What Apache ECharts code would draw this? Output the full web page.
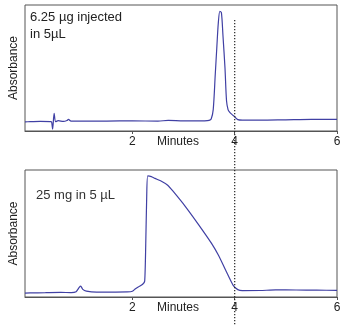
<!DOCTYPE html>
<html><head><meta charset="utf-8">
<script src="https://cdn.jsdelivr.net/npm/echarts@6/dist/echarts.min.js"></script>
<style>html,body{margin:0;padding:0;background:#fff}#c{width:347px;height:330px}</style>
</head><body><div id="c"></div>
<script>
const xTicks = [2, 4, 6];
const markerMinute = 4;
const topTime = [-0.1,0,0.2,0.4,0.42,0.44,0.47,0.50,0.55,0.65,0.72,0.75,0.8,1.0,1.5,2.0,2.5,2.7,3.0,3.4,3.5,3.54,3.58,3.62,3.65,3.68,3.71,3.74,3.77,3.81,3.84,3.87,3.90,3.95,4.0,4.06,4.15,4.5,5.0,5.5,6.0];
const topAbs  = [7.3,7.4,7.6,7.5,7.3,1.5,14,7.4,8.2,7.6,8.3,9.2,7.8,7.8,7.9,8.0,7.9,8.4,8.0,8.1,8.4,9.5,17,45,66,86,95,94,76,50,24,17,15,13,11.3,9.0,8.6,8.6,8.9,9.2,9.2];
const bottomTime = [-0.1,0,0.3,0.6,0.8,0.9,0.96,0.99,1.03,1.1,1.3,1.6,1.9,2.0,2.06,2.12,2.2,2.24,2.26,2.28,2.30,2.37,2.44,2.55,2.69,2.79,3.04,3.30,3.55,3.68,3.84,3.97,4.06,4.15,4.5,4.8,5.2,5.6,6.0];
const bottomAbs  = [3.0,3.2,3.4,3.6,3.5,4.2,7.5,8.5,6.0,4.6,3.8,3.9,4.0,4.5,6.5,8.0,10.0,12.5,40,80,95.3,94.8,93.4,91.5,88,83.5,71,56.6,42,33,19.7,9.2,5.8,5.0,5.1,5.6,5.5,5.4,5.2];
const topLabel = '6.25 µg injected\nin 5µL';
const bottomLabel = '25 mg in 5 µL';
const xName = 'Minutes';
const yName = 'Absorbance';

const font = 'Liberation Sans, Arial, sans-serif';
const lineColor = '#4040a4';
function pairs(xs, ys){ return xs.map((x,i)=>[x, ys[i]]); }
function xAxis(gi){
  return {type:'value', gridIndex:gi, min:-0.1, max:6,
    name:xName, nameLocation:'middle', nameGap:5, nameMoveOverlap:false,
    nameTextStyle:{color:'#222', fontSize:12, fontFamily:font, padding:[0,6,0,0]},
    axisLine:{show:true, onZero:false, lineStyle:{color:'#555', width:1}},
    axisTick:{show:true, length:3, inside:false, customValues:xTicks, lineStyle:{color:'#555'}},
    axisLabel:{show:true, customValues:xTicks, color:'#222', fontSize:12, fontFamily:font, margin:5},
    splitLine:{show:false}};
}
function yAxis(gi){
  return {type:'value', gridIndex:gi, min:0, max:100,
    name:yName, nameLocation:'middle', nameGap:5, nameMoveOverlap:false,
    nameTextStyle:{color:'#222', fontSize:12, fontFamily:font},
    axisLine:{show:false}, axisTick:{show:false}, axisLabel:{show:false}, splitLine:{show:false}};
}
const chart = echarts.init(document.getElementById('c'), null, {renderer:'canvas'});
chart.setOption({
  animation:false,
  grid:[
    {left:23, top:5, width:314, height:126, show:true, borderColor:'#555', borderWidth:1, backgroundColor:'transparent'},
    {left:23, top:170, width:314, height:127, show:true, borderColor:'#555', borderWidth:1, backgroundColor:'transparent'}
  ],
  xAxis:[xAxis(0), xAxis(1)],
  yAxis:[yAxis(0), yAxis(1)],
  series:[
    {type:'line', xAxisIndex:0, yAxisIndex:0, data:pairs(topTime, topAbs), showSymbol:false, smooth:0.3,
     lineStyle:{color:lineColor, width:1.2}},
    {type:'line', xAxisIndex:1, yAxisIndex:1, data:pairs(bottomTime, bottomAbs), showSymbol:false, smooth:0.2,
     lineStyle:{color:lineColor, width:1.2}}
  ]
});
const px = chart.convertToPixel({xAxisIndex:0}, markerMinute);
chart.setOption({graphic:[
  {type:'text', left:30, top:9, style:{text:topLabel, fill:'#222', font:'13px '+font, lineHeight:17}},
  {type:'text', left:36, top:189, style:{text:bottomLabel, fill:'#333', font:'500 13px '+font}},
  {type:'line', shape:{x1:px, y1:20, x2:px, y2:326}, style:{stroke:'#222', lineWidth:1.2, lineDash:[1.2,1.8]}, z:10}
]});
</script></body></html>
